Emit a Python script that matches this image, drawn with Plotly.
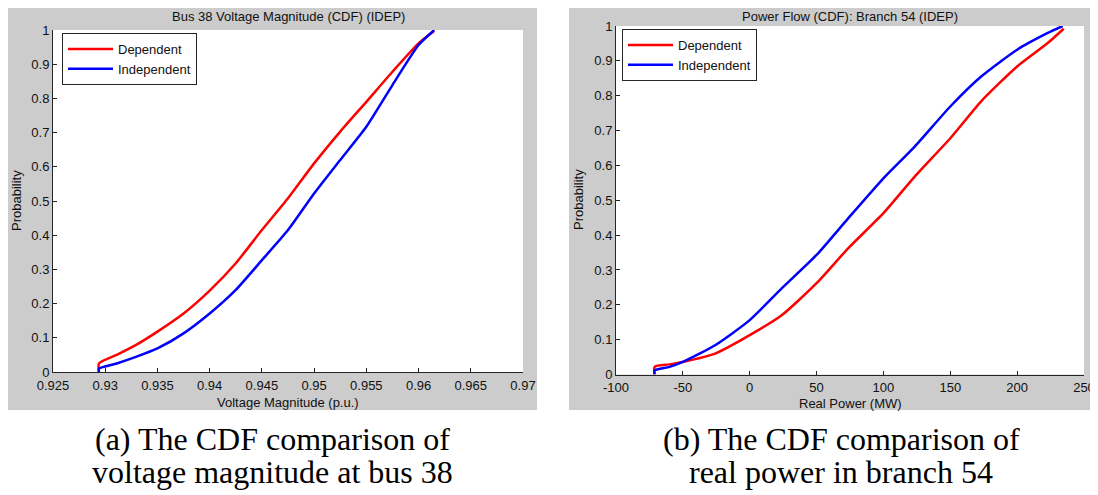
import plotly.graph_objects as go

# ---------------- data ----------------
# Left panel: Bus 38 voltage magnitude CDF
v_dep_x = [0.9294, 0.9294, 0.9311, 0.9330, 0.9350, 0.9375, 0.9400, 0.9425, 0.9450, 0.9475,
           0.9500, 0.9525, 0.9550, 0.9575, 0.9600, 0.9615]
v_dep_y = [0.0, 0.025, 0.050, 0.080, 0.118, 0.171, 0.238, 0.318, 0.415, 0.508,
           0.610, 0.703, 0.790, 0.878, 0.961, 0.997]
v_ind_x = [0.9294, 0.9294, 0.9311, 0.9330, 0.9350, 0.9375, 0.9400, 0.9425, 0.9450, 0.9475,
           0.9500, 0.9525, 0.9550, 0.9575, 0.9600, 0.9615]
v_ind_y = [0.0, 0.010, 0.025, 0.045, 0.069, 0.113, 0.171, 0.240, 0.327, 0.415,
           0.522, 0.620, 0.717, 0.839, 0.956, 1.0]

# Right panel: Branch 54 real power CDF
p_dep_x = [-71.1, -71.1, -60.0, -50.0, -25.9, 0.0, 23.9, 50.0, 73.6, 100.0, 123.4,
           150.0, 173.1, 200.0, 222.9, 234.8]
p_dep_y = [0.0, 0.022, 0.029, 0.036, 0.060, 0.113, 0.170, 0.262, 0.362, 0.463, 0.568,
           0.678, 0.784, 0.884, 0.951, 0.992]
p_ind_x = [-71.1, -71.1, -60.0, -50.0, -25.9, 0.0, 23.9, 50.0, 73.6, 100.0, 123.4,
           150.0, 173.1, 200.0, 222.9, 234.0]
p_ind_y = [0.0, 0.012, 0.022, 0.036, 0.084, 0.156, 0.247, 0.343, 0.448, 0.563, 0.654,
           0.769, 0.855, 0.932, 0.980, 1.0]

series_names = ["Dependent", "Independent"]

v_ticks = [0.925, 0.93, 0.935, 0.94, 0.945, 0.95, 0.955, 0.96, 0.965, 0.97]
v_ticktext = ["0.925", "0.93", "0.935", "0.94", "0.945", "0.95", "0.955", "0.96", "0.965", "0.97"]
p_ticks = [-100, -50, 0, 50, 100, 150, 200, 250]
p_ticktext = ["-100", "-50", "0", "50", "100", "150", "200", "250"]
y_ticks = [0, 0.1, 0.2, 0.3, 0.4, 0.5, 0.6, 0.7, 0.8, 0.9, 1]
y_ticktext = ["0", "0.1", "0.2", "0.3", "0.4", "0.5", "0.6", "0.7", "0.8", "0.9", "1"]

title_left = "Bus 38 Voltage Magnitude (CDF) (IDEP)"
title_right = "Power Flow (CDF): Branch 54 (IDEP)"
xlabel_left = "Voltage Magnitude (p.u.)"
xlabel_right = "Real Power (MW)"
ylabel = "Probability"
caption_left = ["(a) The CDF comparison of", "voltage magnitude at bus 38"]
caption_right = ["(b) The CDF comparison of", "real power in branch 54"]

# ---------------- layout helpers ----------------
# The page body keeps its default 8px margin, so the figure is drawn 8px in
# from the window's top-left corner; positions below are window pixels.
OFF = 8
W, H = 1098 - OFF, 495 - OFF
def px(x):
    return (x - OFF) / W
def py(y):
    return 1 - (y - OFF) / H

RED = "#ff0000"
BLUE = "#0000ff"
GRAY = "#cccccc"
AX = "#262626"
SANS = "Liberation Sans, Arial, sans-serif"
SERIF = "Liberation Serif, Times New Roman, serif"

fig = go.Figure()

line_kw = dict(width=2.5, shape="spline", smoothing=0.6)
fig.add_trace(go.Scatter(x=v_dep_x, y=v_dep_y, mode="lines", name=series_names[0],
                         line=dict(color=RED, **line_kw), xaxis="x", yaxis="y", legend="legend"))
fig.add_trace(go.Scatter(x=v_ind_x, y=v_ind_y, mode="lines", name=series_names[1],
                         line=dict(color=BLUE, **line_kw), xaxis="x", yaxis="y", legend="legend"))
fig.add_trace(go.Scatter(x=p_dep_x, y=p_dep_y, mode="lines", name=series_names[0],
                         line=dict(color=RED, **line_kw), xaxis="x2", yaxis="y2", legend="legend2"))
fig.add_trace(go.Scatter(x=p_ind_x, y=p_ind_y, mode="lines", name=series_names[1],
                         line=dict(color=BLUE, **line_kw), xaxis="x2", yaxis="y2", legend="legend2"))

axis_common = dict(showline=True, linecolor=AX, linewidth=1, mirror=False,
                   ticks="inside", ticklen=4, tickcolor=AX, tickwidth=1,
                   showgrid=False, zeroline=False, automargin=False,
                   tickfont=dict(family=SANS, size=13, color="#111111"))

L = dict(x0=53, x1=523, y0=30, y1=372)
R = dict(x0=616, x1=1084, y0=26, y1=374.5)

legend_common = dict(xanchor="left", yanchor="top",
                     bgcolor="white", bordercolor=AX, borderwidth=1,
                     font=dict(family=SANS, size=13, color="#111111"),
                     tracegroupgap=0, itemwidth=45)

fig.update_layout(
    width=W, height=H,
    margin=dict(l=0, r=0, t=0, b=0, pad=0, autoexpand=False),
    paper_bgcolor="white",
    plot_bgcolor="rgba(0,0,0,0)",
    xaxis=dict(domain=[px(L["x0"]), px(L["x1"])], range=[0.925, 0.97],
               tickvals=v_ticks, ticktext=v_ticktext, anchor="y",
               ticklabelstandoff=1, **axis_common),
    yaxis=dict(domain=[py(L["y1"]), py(L["y0"])], range=[0, 1],
               tickvals=y_ticks, ticktext=y_ticktext, anchor="x", **axis_common),
    xaxis2=dict(domain=[px(R["x0"]), px(R["x1"])], range=[-100, 250],
                tickvals=p_ticks, ticktext=p_ticktext, anchor="y2",
                ticklabelstandoff=1, **axis_common),
    yaxis2=dict(domain=[py(R["y1"]), py(R["y0"])], range=[0, 1],
                tickvals=y_ticks, ticktext=y_ticktext, anchor="x2", **axis_common),
    legend=dict(x=px(62), y=py(33), **legend_common),
    legend2=dict(x=px(622), y=py(29), **legend_common),
    showlegend=True,
)

# gray figure panels and white axes areas
shapes = []
for (gx0, gx1), a in [((8, 537), L), ((569, 1094), R)]:
    shapes.append(dict(type="rect", xref="paper", yref="paper",
                       x0=px(gx0), x1=px(gx1), y0=py(410), y1=py(8),
                       fillcolor=GRAY, line=dict(width=0), layer="below"))
    shapes.append(dict(type="rect", xref="paper", yref="paper",
                       x0=px(a["x0"]), x1=px(a["x1"]), y0=py(a["y1"]), y1=py(a["y0"]),
                       fillcolor="white", line=dict(width=0), layer="below"))
fig.update_layout(shapes=shapes)

ann = []
def text(x, y, s, size, family=SANS, angle=0, color="#111111"):
    ann.append(dict(x=px(x), y=py(y), xref="paper", yref="paper", text=s,
                    showarrow=False, xanchor="center", yanchor="middle",
                    textangle=angle, font=dict(family=family, size=size, color=color)))

text((L["x0"] + L["x1"]) / 2, 17, title_left, 13)
text((R["x0"] + R["x1"]) / 2, 16, title_right, 13)
text((L["x0"] + L["x1"]) / 2, 402, xlabel_left, 13)
text((R["x0"] + R["x1"]) / 2, 403, xlabel_right, 13)
text(16, 201, ylabel, 13, angle=-90)
text(578, 200, ylabel, 13, angle=-90)
text(272, 439, caption_left[0], 32, family=SERIF, color="black")
text(272, 472, caption_left[1], 32, family=SERIF, color="black")
text(841, 439, caption_right[0], 32, family=SERIF, color="black")
text(841, 472, caption_right[1], 32, family=SERIF, color="black")
fig.update_layout(annotations=ann)

fig.write_html("out.html")
